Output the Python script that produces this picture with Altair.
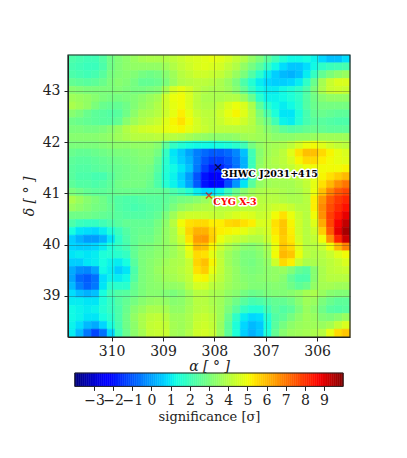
import altair as alt
import pandas as pd

RA_LEFT, RA_RIGHT = 310.85, 305.36
DEC_TOP, DEC_BOTTOM = 43.70, 38.20
W = H = 282

# significance; rows top to bottom, columns left to right
GRID = [
 [2.2,2.1,2.0,2.0,2.3,2.8, 3.1,3.3,3.5,3.7,3.8,3.8, 3.9,4.1,4.3,4.5,4.6,4.7, 4.8,4.7,4.5,4.2,3.9,3.4, 3.0,2.5,2.0,1.5,1.2,1.2, 1.3,1.1,0.7,0.4,0.4,0.8],
 [2.1,2.0,1.9,1.9,2.2,2.8, 3.1,3.3,3.4,3.4,3.4,3.4, 3.6,3.9,4.2,4.4,4.6,4.7, 4.6,4.5,4.2,3.9,3.4,2.9, 2.4,1.8,1.2,0.8,0.5,0.5, 0.8,1.2,1.7,1.9,2.0,2.1],
 [2.2,2.1,2.0,2.1,2.4,2.9, 3.1,3.2,3.1,2.9,2.8,2.9, 3.2,3.6,4.0,4.2,4.4,4.4, 4.3,4.2,3.9,3.5,3.0,2.3, 1.6,1.0,0.6,0.3,0.2,0.4, 1.0,1.8,2.6,3.0,3.3,3.5],
 [2.6,2.5,2.4,2.5,2.7,3.0, 3.2,3.1,2.9,2.6,2.6,2.7, 3.0,3.5,3.9,4.0,4.1,4.1, 4.0,3.8,3.5,3.0,2.2,1.5, 1.0,0.7,0.6,0.6,0.7,1.0, 1.7,2.7,3.7,4.3,4.6,4.6],
 [3.2,3.1,3.0,3.0,3.0,3.0, 3.1,3.0,2.9,2.9,3.0,3.1, 3.7,4.5,4.8,4.5,4.1,3.9, 3.8,3.8,3.6,3.2,2.6,1.8, 1.2,1.0,1.0,1.2,1.4,1.7, 2.2,3.0,3.8,4.3,4.4,4.3],
 [3.6,3.5,3.4,3.2,3.0,2.9, 2.9,3.0,3.1,3.3,3.5,3.7, 4.4,4.9,5.0,4.6,4.1,3.8, 3.8,3.8,3.9,3.9,3.5,2.7, 1.6,1.1,1.1,1.2,1.4,1.7, 2.3,2.8,3.2,3.4,3.4,3.4],
 [3.8,3.6,3.4,3.0,2.7,2.6, 2.6,2.8,3.1,3.4,3.6,3.9, 4.4,4.8,5.0,4.6,4.1,3.9, 3.9,4.2,4.6,4.9,4.6,3.8, 2.5,1.6,1.2,1.0,1.2,1.6, 2.3,2.7,2.9,2.9,2.9,2.9],
 [3.2,3.0,2.7,2.5,2.4,2.3, 2.4,2.8,3.3,3.7,3.8,4.0, 4.4,4.8,5.2,4.8,4.3,4.1, 4.1,4.4,4.8,5.1,4.7,4.0, 3.0,2.2,1.4,0.9,0.9,1.4, 2.1,2.6,2.7,2.6,2.5,2.5],
 [2.8,2.7,2.6,2.5,2.4,2.4, 2.6,3.2,3.6,3.9,4.1,4.3, 4.7,5.1,5.4,5.0,4.5,4.2, 4.1,4.3,4.6,4.7,4.4,4.0, 3.3,2.8,2.0,1.1,1.0,1.5, 2.1,2.4,2.4,2.3,2.2,2.2],
 [3.0,3.0,2.9,2.9,3.0,3.2, 3.5,3.9,4.2,4.4,4.5,4.6, 4.8,5.0,5.1,4.8,4.5,4.3, 4.1,4.1,4.1,4.1,4.0,3.9, 3.6,3.2,2.9,2.5,2.3,2.4, 2.6,2.7,2.6,2.5,2.5,2.5],
 [3.2,3.2,3.2,3.2,3.3,3.4, 3.6,3.8,4.0,4.0,4.0,4.1, 4.0,4.0,3.9,3.7,3.5,3.4, 3.3,3.3,3.3,3.4,3.6,3.7, 3.6,3.5,3.3,3.3,3.3,3.4, 3.4,3.5,3.6,3.6,3.6,3.6],
 [3.0,3.0,3.0,3.0,3.1,3.2, 3.3,3.3,3.4,3.4,3.4,3.2, 2.5,1.8,1.5,1.3,1.2,1.2, 1.2,1.3,1.4,1.6,2.0,2.9, 3.4,3.6,3.7,3.8,4.1,4.5, 4.9,5.0,4.7,4.4,4.2,4.1],
 [2.7,2.6,2.6,2.7,2.8,2.9, 3.0,3.0,3.1,3.2,3.2,2.9, 1.8,0.9,0.5,0.0,-0.5,-0.8, -1.0,-1.0,-0.8,-0.4,0.4,2.0, 3.2,3.6,3.8,4.1,4.7,5.4, 5.9,5.9,5.5,5.1,4.8,4.6],
 [2.5,2.4,2.4,2.5,2.6,2.7, 2.8,2.9,3.0,3.1,3.1,2.6, 1.6,1.0,0.6,0.2,-0.5,-1.1, -1.4,-1.4,-1.1,-0.6,0.2,1.9, 3.3,3.7,3.9,4.1,4.5,5.1, 5.5,5.5,5.2,5.0,4.8,4.7],
 [2.4,2.3,2.3,2.4,2.5,2.6, 2.7,2.8,2.9,3.0,2.9,2.4, 1.5,1.2,0.9,0.4,-0.6,-1.4, -1.9,-1.8,-1.3,-0.7,0.2,1.9, 3.4,3.7,3.8,4.0,4.2,4.6, 4.9,5.0,5.0,5.0,5.0,5.1],
 [2.4,2.2,2.2,2.1,2.1,2.4, 2.7,2.8,2.9,2.9,2.8,2.2, 1.4,1.1,0.6,-0.1,-1.1,-2.0, -2.5,-2.4,-1.8,-1.0,0.0,1.8, 3.3,3.6,3.7,3.8,3.9,4.1, 4.4,4.8,5.1,5.4,5.7,6.0],
 [2.5,2.3,2.3,2.2,2.3,2.5, 2.8,2.9,2.9,2.9,2.7,2.2, 1.5,1.1,0.7,0.0,-1.0,-2.0, -2.4,-2.2,-1.2,-0.2,0.9,2.4, 3.4,3.6,3.7,3.7,3.7,3.9, 4.2,4.8,5.4,6.0,6.6,7.0],
 [3.0,2.8,2.6,2.5,2.5,2.6, 2.7,2.7,2.7,2.7,2.6,2.6, 2.5,2.2,1.9,1.5,1.0,0.7, 0.8,1.1,1.9,2.7,3.2,3.6, 3.8,3.9,3.9,3.8,3.7,3.8, 4.1,4.9,5.9,6.8,7.4,7.7],
 [3.8,3.5,3.2,3.0,2.8,2.5, 2.3,2.2,2.2,2.3,2.4,2.4, 2.5,2.7,2.9,3.0,3.2,3.5, 3.8,4.0,4.0,4.0,4.0,4.0, 4.0,4.0,4.0,3.9,3.8,3.8, 4.0,5.2,6.5,7.4,7.9,8.2],
 [3.5,3.3,3.1,2.9,2.8,2.6, 2.3,2.2,2.1,2.2,2.3,2.4, 2.6,3.0,3.4,3.6,3.8,3.9, 4.0,4.0,4.0,4.0,4.1,4.1, 4.1,4.2,4.4,4.5,4.3,4.0, 4.0,5.2,6.7,7.6,8.1,8.5],
 [2.8,2.8,2.8,2.7,2.6,2.5, 2.4,2.3,2.3,2.3,2.4,2.6, 3.0,3.6,4.2,4.4,4.4,4.4, 4.3,4.2,4.4,4.6,4.7,4.6, 4.3,4.4,5.0,5.4,4.9,4.3, 4.0,5.0,6.6,7.8,8.4,8.9],
 [2.2,1.9,1.8,1.8,2.0,2.2, 2.4,2.6,2.6,2.6,2.6,2.9, 3.3,4.0,5.0,5.4,5.5,5.5, 5.2,5.2,5.5,5.6,5.4,5.2, 4.6,4.6,5.4,5.8,5.1,4.4, 4.0,4.7,6.2,7.7,8.7,9.3],
 [1.3,0.9,0.8,0.7,1.0,1.4, 1.9,2.3,2.6,2.7,2.7,3.0, 3.4,3.8,4.7,5.6,6.1,6.1, 5.6,5.2,5.1,5.0,4.8,4.5, 4.3,4.5,5.3,5.8,5.2,4.4, 4.0,4.4,5.7,7.4,8.9,9.6],
 [0.6,0.2,-0.1,-0.1,0.2,0.9, 1.7,2.2,2.6,2.8,2.8,3.1, 3.4,3.8,4.4,5.4,6.4,6.5, 5.7,4.9,4.5,4.3,4.1,3.9, 3.9,4.3,5.1,5.7,5.3,4.5, 4.0,4.2,5.0,6.6,8.2,9.2],
 [0.7,0.6,0.6,0.7,1.0,1.4, 1.8,2.1,2.6,2.9,3.0,3.2, 3.4,3.6,4.1,5.0,6.0,5.9, 5.1,4.4,3.9,3.6,3.3,3.2, 3.4,3.8,4.9,5.8,5.5,4.7, 4.0,4.0,4.3,5.0,6.0,6.8],
 [0.9,1.0,0.9,1.0,1.4,1.5, 1.6,1.8,2.6,3.0,3.1,3.3, 3.4,3.6,3.9,4.7,5.5,5.4, 4.8,4.1,3.6,3.3,3.0,3.0, 3.2,3.6,5.0,6.0,5.8,4.9, 4.1,3.9,4.0,4.3,4.7,5.0],
 [0.6,0.6,0.9,1.0,1.3,1.1, 1.0,1.3,2.4,3.0,3.2,3.4, 3.6,3.8,3.9,4.3,5.6,5.9, 5.1,4.2,3.6,3.3,3.0,2.9, 3.1,3.4,4.4,5.5,5.2,4.3, 3.8,3.8,3.9,4.1,4.3,4.6],
 [0.1,-0.3,-0.4,0.0,1.2,1.0, 0.6,0.9,2.2,3.0,3.2,3.5, 3.7,3.8,4.0,4.3,5.4,5.7, 4.9,4.2,3.7,3.4,3.1,3.0, 3.1,3.3,3.4,3.5,3.1,2.6, 2.4,3.2,3.8,4.1,4.2,4.3],
 [0.0,-0.8,-1.0,-0.7,0.8,1.1, 1.0,1.2,2.3,3.0,3.2,3.4, 3.6,3.7,3.9,4.2,5.0,5.1, 4.5,4.1,3.7,3.4,3.2,3.1, 3.2,3.3,3.4,3.2,2.6,2.2, 2.2,3.2,3.8,4.0,4.0,4.0],
 [0.3,-0.5,-0.9,-0.6,0.9,1.6, 1.6,1.6,2.6,3.0,3.2,3.3, 3.4,3.4,3.5,4.0,4.5,4.5, 4.1,3.9,3.6,3.4,3.3,3.1, 3.1,3.1,3.2,3.1,2.8,2.5, 2.7,3.4,3.7,3.7,3.6,3.6],
 [0.8,0.4,0.2,0.4,1.3,2.0, 2.3,2.4,2.7,3.0,3.2,3.2, 3.1,3.0,3.2,3.6,4.0,4.0, 3.8,3.7,3.4,3.2,2.9,2.7, 2.8,3.0,3.1,3.1,3.2,3.4, 3.7,3.8,3.5,3.2,3.1,3.1],
 [1.0,1.0,0.9,0.9,1.4,1.8, 2.3,2.6,2.9,3.2,3.4,3.5, 3.4,3.2,3.3,3.6,4.0,4.0, 3.8,3.6,3.2,2.8,2.4,2.1, 2.2,2.4,2.6,2.6,2.8,3.2, 3.6,3.5,3.0,2.7,2.5,2.5],
 [1.2,1.1,1.0,1.1,1.5,1.8, 2.2,2.7,3.2,3.5,3.8,3.8, 3.7,3.4,3.4,3.7,4.0,4.1, 3.9,3.6,3.0,2.4,1.8,1.5, 1.5,2.0,2.5,2.3,2.5,3.0, 3.5,3.3,2.8,2.4,2.3,2.4],
 [1.2,1.1,0.9,0.9,1.3,1.6, 2.2,2.8,3.4,3.8,4.1,4.2, 4.0,3.6,3.6,3.8,4.2,4.3, 4.1,3.6,2.7,1.7,1.0,0.7, 0.8,1.5,2.3,2.5,2.9,3.3, 3.6,3.5,3.1,3.0,3.2,3.5],
 [1.1,0.8,0.3,0.1,0.7,1.3, 2.1,2.8,3.3,3.8,4.2,4.3, 4.2,3.7,3.6,3.8,4.3,4.4, 4.2,3.5,2.5,1.4,0.7,0.3, 0.5,1.3,2.4,2.9,3.3,3.5, 3.6,3.6,3.5,3.7,4.2,4.6],
 [1.0,0.3,-0.6,-1.3,-0.7,0.7, 1.9,2.7,3.3,3.7,4.2,4.3, 4.3,3.7,3.6,3.9,4.4,4.5, 4.3,3.5,2.5,1.4,0.6,0.2, 0.5,1.4,2.6,3.2,3.5,3.6, 3.7,3.8,4.0,4.8,5.5,5.8],
]
SOURCES = ["3HWC J2031+415", "CYG X-3"]
SRC_RA = [307.93, 308.107]
SRC_DEC = [41.51, 40.958]
LAB_RA = [307.85, 308.02]
LAB_DEC = [41.375, 40.825]
SRC_COLORS = ["black", "red"]
X_TICKS = [310, 309, 308, 307, 306]
Y_TICKS = [39, 40, 41, 42, 43]
CB_TICKS = [-3, -2, -1, 0, 1, 2, 3, 4, 5, 6, 7, 8, 9]
CB_MIN, CB_MAX = -4, 10
JET_POS = [0, .11, .125, .34, .35, .375, .64, .65, .66, .89, .91, 1]
JET_HEX = ["#000080", "#0000ff", "#0000ff", "#00dbff", "#00e6f7", "#14ffe2",
           "#eeff08", "#f7f600", "#ffec00", "#ff1300", "#f60000", "#800000"]

FONT = "DejaVu Serif"
jet = alt.Scale(domain=[CB_MIN + p * (CB_MAX - CB_MIN) for p in JET_POS], range=JET_HEX,
                interpolate="rgb", clamp=True)

n = len(GRID)
dx = (RA_RIGHT - RA_LEFT) / n
dy = (DEC_BOTTOM - DEC_TOP) / n
cells = pd.DataFrame([
    dict(a=RA_LEFT + j * dx, a2=RA_LEFT + (j + 1) * dx,
         d=DEC_TOP + i * dy, d2=DEC_TOP + (i + 1) * dy, s=v)
    for i, row in enumerate(GRID) for j, v in enumerate(row)])

xs = alt.Scale(domain=[RA_LEFT, RA_RIGHT], nice=False, zero=False)
ys = alt.Scale(domain=[DEC_BOTTOM, DEC_TOP], nice=False, zero=False)
axcommon = dict(labelFont=FONT, labelFontSize=14, labelColor="#222", titleFont=FONT, titleFontSize=14,
                titleFontWeight="normal", titleColor="#222", grid=True, gridColor="#333", gridOpacity=0.33,
                gridWidth=1, tickColor="#222", tickSize=4, domainColor="#222", zindex=1)
x_axis = alt.Axis(values=X_TICKS, title="α [ ° ]", format="d", titleFontStyle="italic",
                  labelPadding=3, titlePadding=1, **axcommon)
y_axis = alt.Axis(values=Y_TICKS, title="δ [ ° ]", format="d", titleFontStyle="italic",
                  labelPadding=4, titlePadding=6, **axcommon)

heat = alt.Chart(cells).mark_rect(strokeWidth=0.6).encode(
    x=alt.X("a:Q", scale=xs, axis=x_axis),
    x2="a2:Q",
    y=alt.Y("d:Q", scale=ys, axis=y_axis),
    y2="d2:Q",
    color=alt.Color("s:Q", scale=jet, legend=None),
    stroke=alt.Stroke("s:Q", scale=jet, legend=None),
)
src = pd.DataFrame(dict(name=SOURCES, a=SRC_RA, d=SRC_DEC, la=LAB_RA, ld=LAB_DEC, c=SRC_COLORS))
pts = alt.Chart(src).mark_point(shape="M-1,-1L1,1M-1,1L1,-1", size=36, strokeWidth=1.4, filled=False).encode(
    x=alt.X("a:Q", scale=xs, axis=x_axis), y=alt.Y("d:Q", scale=ys, axis=y_axis),
    stroke=alt.Stroke("c:N", scale=None))
halo = alt.Chart(src).mark_text(font=FONT, fontSize=9.5, fontWeight="bold", align="left", baseline="middle",
                                stroke="white", strokeWidth=3, strokeJoin="round").encode(
    x=alt.X("la:Q", scale=xs, axis=x_axis), y=alt.Y("ld:Q", scale=ys, axis=y_axis), text="name:N", color=alt.value("white"))
labs = alt.Chart(src).mark_text(font=FONT, fontSize=9.5, fontWeight="bold", align="left", baseline="middle").encode(
    x=alt.X("la:Q", scale=xs, axis=x_axis), y=alt.Y("ld:Q", scale=ys, axis=y_axis), text="name:N", color=alt.Color("c:N", scale=None))
frame = alt.Chart(src.head(1)).mark_rect(fill=None, stroke="#222", strokeWidth=1.2).encode(
    x=alt.value(0), x2=alt.value(W), y=alt.value(0), y2=alt.value(H))
main = alt.layer(heat, halo, labs, pts, frame).properties(width=W, height=H)

# colour bar
CB_W = 268.4
px_unit = CB_W / (CB_MAX - CB_MIN)
cb_lo = CB_MIN - 6.8 / px_unit
cb_hi = cb_lo + W / px_unit
cb_steps = [CB_MIN + i * 0.1 for i in range(int((CB_MAX - CB_MIN) * 10))]
cb = pd.DataFrame(dict(v=cb_steps, v2=[s + 0.1 for s in cb_steps]))
cbs = alt.Scale(domain=[cb_lo, cb_hi], nice=False, zero=False)
cb_axis = alt.Axis(values=CB_TICKS, title="significance [σ]", domain=False, format="d",
                   labelFont=FONT, labelFontSize=14, labelColor="#222", titleFont=FONT,
                   titleFontSize=13, titleFontWeight="normal", titleColor="#222",
                   tickColor="#222", tickSize=4, grid=False, labelPadding=3, titlePadding=3,
                   labelOverlap=False)
strip = alt.Chart(cb).mark_rect(strokeWidth=0.5).encode(
    x=alt.X("v:Q", scale=cbs, axis=cb_axis),
    x2="v2:Q",
    color=alt.Color("v:Q", scale=jet, legend=None),
    stroke=alt.Stroke("v:Q", scale=jet, legend=None),
)
cbf = pd.DataFrame(dict(v=[CB_MIN], v2=[CB_MAX]))
cbframe = alt.Chart(cbf).mark_rect(fill=None, stroke="#222", strokeWidth=1).encode(
    x=alt.X("v:Q", scale=cbs, axis=cb_axis), x2="v2:Q")
bar = alt.layer(strip, cbframe).properties(width=W, height=13.4)

chart = alt.vconcat(main, bar, spacing=-2).resolve_scale(color="independent", stroke="independent").properties(
    padding={"left": 14, "top": 46, "right": 10, "bottom": 10}, background="white"
).configure_view(stroke=None)
chart.save("out.html", embed_options={"renderer": "svg", "actions": False})
